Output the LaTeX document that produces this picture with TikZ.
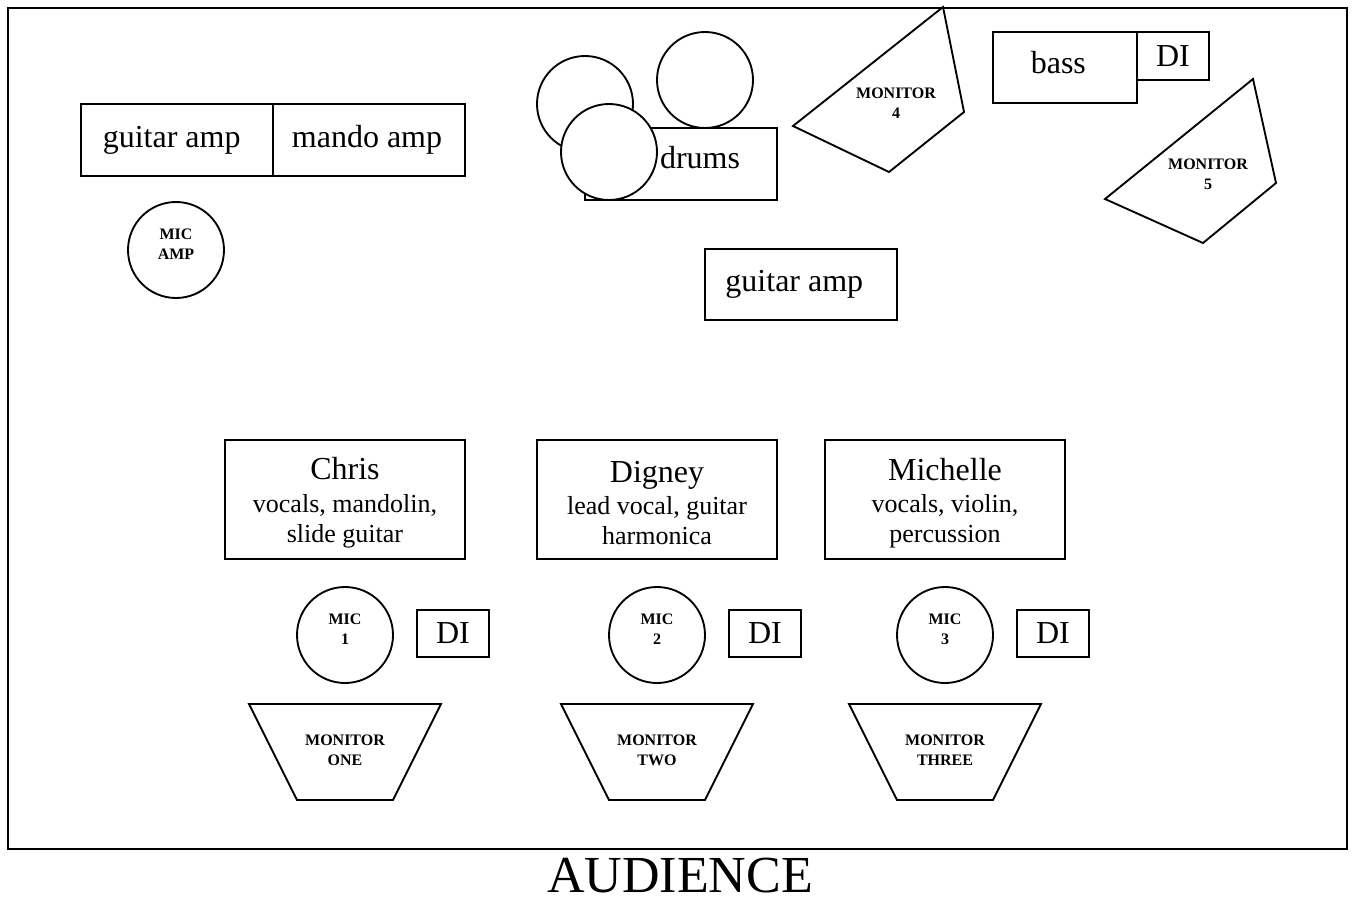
\documentclass[tikz,border=0pt]{standalone}
\usepackage{fontspec}
\setmainfont{Liberation Serif}
\usetikzlibrary{positioning}

\tikzset{
  amp/.style={draw, fill=white, minimum width=144pt, minimum height=54pt, inner sep=0pt, outer sep=0pt, font=\fontsize{24}{28}\selectfont},
  di/.style={draw, fill=white, minimum width=54pt, minimum height=35pt, inner sep=0pt, outer sep=0pt, font=\fontsize{24}{28}\selectfont},
  mic/.style={draw, fill=white, circle, minimum size=72pt, inner sep=0pt},
  who/.style={draw, minimum width=180pt, minimum height=89pt, inner sep=0pt},
  whotext/.style={align=center, inner sep=0pt, font=\fontsize{19.5}{22.5}\selectfont},
  tag/.style={align=center, inner sep=0pt, font=\fontsize{12}{15}\selectfont\bfseries},
}

\begin{document}
\begin{tikzpicture}[x=0.75pt, y=-0.75pt, line width=1.4pt, line join=miter]
 \useasboundingbox (0,0) rectangle (1356,903);
 \draw (8,8) rectangle (1347,849);

 % back line
 \draw (177,140) node[amp] (gamp) {guitar amp\hspace*{8pt}};
 \node[amp, right=0pt of gamp] (mamp) {mando amp\hspace*{3pt}};
 \draw (176,250) node[mic] (micamp) {};
 \draw (176,244) node[tag] {MIC\\AMP};

 \draw (585,104) node[mic] (tom) {};
 \draw (705,80) node[mic] (ride) {};
 \draw (681,164) node[amp] (kit) {};
 \draw (609,152) node[mic] (snare) {};
 \draw (700,158) node[font=\fontsize{24}{28}\selectfont] (drums) {drums};

 \draw (943,7) -- (964,112) -- (889,172) -- (793,126) -- cycle;
 \draw (896,103) node[tag] (mon4) {MONITOR\\4};

 \draw (1065,67.5) node[amp, minimum width=108pt, minimum height=53pt, text depth=7pt] (bass) {bass\hspace*{10pt}};
 \node[di, minimum height=36pt, anchor=north west] (bassdi) at (bass.north east) {DI};

 \draw (1253,79) -- (1276,183) -- (1203,243) -- (1105,199) -- cycle;
 \draw (1208,174) node[tag] (mon5) {MONITOR\\5};

 \draw (801,284.5) node[amp, minimum height=53pt] (gamp2) {guitar amp\hspace*{10pt}};

 % front line
 \draw (345,499.5) node[who] (chrisbox) {};
 \draw (345,503) node[whotext] (chris) {{\fontsize{24}{26}\selectfont Chris}\\[2pt]vocals, mandolin,\\slide guitar};
 \draw (657,499.5) node[who] (digneybox) {};
 \draw (657,503) node[whotext] (digney) {{\fontsize{24}{26}\selectfont Digney}\\[2pt]lead vocal, guitar\\harmonica};
 \draw (945,499.5) node[who] (michellebox) {};
 \draw (945,503) node[whotext] (michelle) {{\fontsize{24}{26}\selectfont Michelle}\\[2pt]vocals, violin,\\percussion};

 \draw (345,635) node[mic] (mic1) {};
 \draw (345,629) node[tag] {MIC\\1};
 \draw (453,633.5) node[di] (di1) {DI};
 \draw (657,635) node[mic] (mic2) {};
 \draw (657,629) node[tag] {MIC\\2};
 \draw (765,633.5) node[di] (di2) {DI};
 \draw (945,635) node[mic] (mic3) {};
 \draw (945,629) node[tag] {MIC\\3};
 \draw (1053,633.5) node[di] (di3) {DI};

 \draw (249,704) -- (441,704) -- (393,800) -- (297,800) -- cycle;
 \draw (345,750) node[tag] (mon1) {MONITOR\\ONE};
 \draw (561,704) -- (753,704) -- (705,800) -- (609,800) -- cycle;
 \draw (657,750) node[tag] (mon2) {MONITOR\\TWO};
 \draw (849,704) -- (1041,704) -- (993,800) -- (897,800) -- cycle;
 \draw (945,750) node[tag] (mon3) {MONITOR\\THREE};

 \draw (680,876) node[inner sep=0pt, font=\fontsize{39}{44}\selectfont] (audience) {AUDIENCE};
\end{tikzpicture}
\end{document}
